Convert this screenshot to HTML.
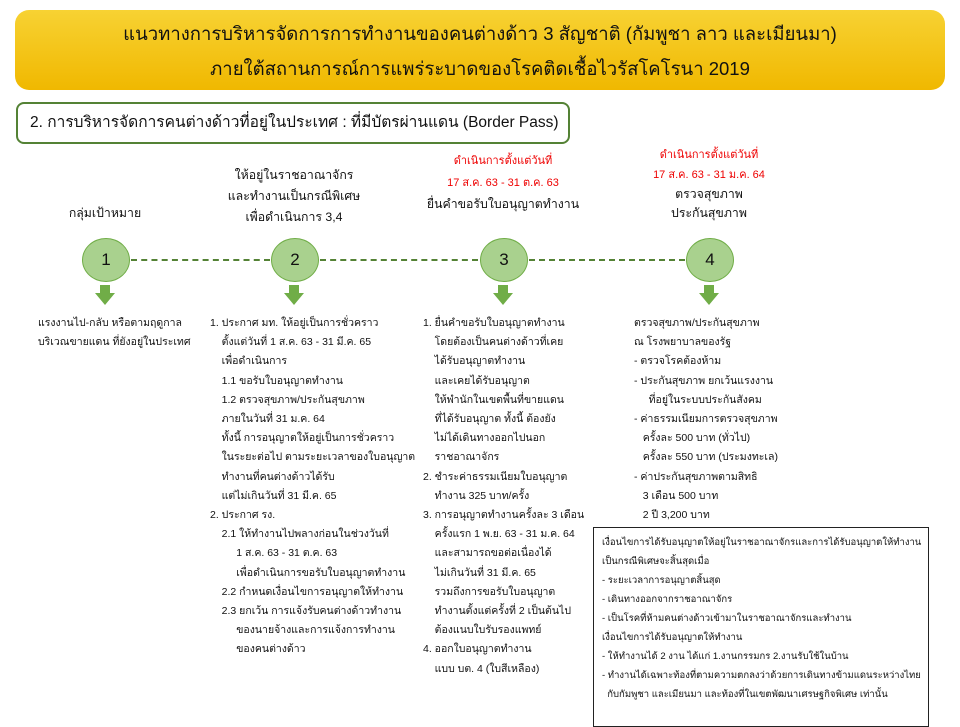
<!DOCTYPE html>
<html><head><meta charset="utf-8"><style>
body{margin:0;width:960px;height:720px;background:#fff;position:relative;overflow:hidden;font-family:"Liberation Sans","Noto Sans CJK SC",sans-serif;color:#111}
.hdr{position:absolute;left:15px;top:10px;width:930px;height:80px;border-radius:14px;background:linear-gradient(#f7d233,#f0b800);text-align:center;font-size:18.5px;line-height:35px;padding-top:6px;box-sizing:border-box;white-space:nowrap}
.sub{position:absolute;left:16px;top:102px;width:554px;height:42px;border:2px solid #548235;border-radius:8px;box-sizing:border-box;font-size:15.5px;line-height:38px;padding-left:12px;white-space:nowrap}
.c{position:absolute;width:48px;height:44px;border-radius:50%;background:#a9d18e;border:1px solid #70ad47;box-sizing:border-box;text-align:center;line-height:42px;font-size:17px}
.ln{position:absolute;top:259px;border-top:2px dashed #548235}
.t{position:absolute;font-size:10.5px;line-height:19.2px;white-space:nowrap}
.lab{position:absolute;text-align:center;font-size:12.3px;line-height:21px;white-space:nowrap}
.r{color:#e00;font-size:11px}
.box{position:absolute;left:593px;top:527px;width:336px;height:200px;border:1px solid #222;box-sizing:border-box;padding:5px 0 0 8px;font-size:9.5px;line-height:19px;white-space:nowrap}
</style></head><body>
<div class="hdr">แนวทางการบริหารจัดการการทำงานของคนต่างด้าว 3 สัญชาติ (กัมพูชา ลาว และเมียนมา)<br>ภายใต้สถานการณ์การแพร่ระบาดของโรคติดเชื้อไวรัสโคโรนา 2019</div>
<div class="sub">2. การบริหารจัดการคนต่างด้าวที่อยู่ในประเทศ : ที่มีบัตรผ่านแดน (Border Pass)</div>

<div class="lab" style="left:45px;width:120px;top:203px">กลุ่มเป้าหมาย</div>
<div class="lab" style="left:214px;width:160px;top:165px">ให้อยู่ในราชอาณาจักร<br>และทำงานเป็นกรณีพิเศษ<br>เพื่อดำเนินการ 3,4</div>
<div class="lab" style="left:413px;width:180px;top:150px"><span class="r">ดำเนินการตั้งแต่วันที่</span><br><span class="r">17 ส.ค. 63 - 31 ต.ค. 63</span><br>ยื่นคำขอรับใบอนุญาตทำงาน</div>
<div class="lab" style="left:619px;width:180px;top:145px;line-height:19px"><span class="r">ดำเนินการตั้งแต่วันที่</span><br><span class="r">17 ส.ค. 63 - 31 ม.ค. 64</span><br>ตรวจสุขภาพ<br>ประกันสุขภาพ</div>

<div class="ln" style="left:131px;width:139px"></div>
<div class="ln" style="left:320px;width:158px"></div>
<div class="ln" style="left:529px;width:156px"></div>
<div class="c" style="left:82px;top:238px">1</div>
<div class="c" style="left:271px;top:238px">2</div>
<div class="c" style="left:480px;top:238px">3</div>
<div class="c" style="left:686px;top:238px">4</div>
<svg style="position:absolute;left:0;top:0" width="960" height="320">
<g fill="#70ad47"><path d="M100 285h10v8h5l-10 12l-10-12h5z"/><path d="M289 285h10v8h5l-10 12l-10-12h5z"/><path d="M498 285h10v8h5l-10 12l-10-12h5z"/><path d="M704 285h10v8h5l-10 12l-10-12h5z"/></g></svg>

<div class="t" style="left:38px;top:314px">แรงงานไป-กลับ หรือตามฤดูกาล<br>บริเวณขายแดน ที่ยังอยู่ในประเทศ</div>
<div class="t" style="left:210px;top:314px">1. ประกาศ มท. ให้อยู่เป็นการชั่วคราว<br>&nbsp;&nbsp;&nbsp;&nbsp;ตั้งแต่วันที่ 1 ส.ค. 63 - 31 มี.ค. 65<br>&nbsp;&nbsp;&nbsp;&nbsp;เพื่อดำเนินการ<br>&nbsp;&nbsp;&nbsp;&nbsp;1.1 ขอรับใบอนุญาตทำงาน<br>&nbsp;&nbsp;&nbsp;&nbsp;1.2 ตรวจสุขภาพ/ประกันสุขภาพ<br>&nbsp;&nbsp;&nbsp;&nbsp;ภายในวันที่ 31 ม.ค. 64<br>&nbsp;&nbsp;&nbsp;&nbsp;ทั้งนี้ การอนุญาตให้อยู่เป็นการชั่วคราว<br>&nbsp;&nbsp;&nbsp;&nbsp;ในระยะต่อไป ตามระยะเวลาของใบอนุญาต<br>&nbsp;&nbsp;&nbsp;&nbsp;ทำงานที่คนต่างด้าวได้รับ<br>&nbsp;&nbsp;&nbsp;&nbsp;แต่ไม่เกินวันที่ 31 มี.ค. 65<br>2. ประกาศ รง.<br>&nbsp;&nbsp;&nbsp;&nbsp;2.1 ให้ทำงานไปพลางก่อนในช่วงวันที่<br>&nbsp;&nbsp;&nbsp;&nbsp;&nbsp;&nbsp;&nbsp;&nbsp;&nbsp;1 ส.ค. 63 - 31 ต.ค. 63<br>&nbsp;&nbsp;&nbsp;&nbsp;&nbsp;&nbsp;&nbsp;&nbsp;&nbsp;เพื่อดำเนินการขอรับใบอนุญาตทำงาน<br>&nbsp;&nbsp;&nbsp;&nbsp;2.2 กำหนดเงื่อนไขการอนุญาตให้ทำงาน<br>&nbsp;&nbsp;&nbsp;&nbsp;2.3 ยกเว้น การแจ้งรับคนต่างด้าวทำงาน<br>&nbsp;&nbsp;&nbsp;&nbsp;&nbsp;&nbsp;&nbsp;&nbsp;&nbsp;ของนายจ้างและการแจ้งการทำงาน<br>&nbsp;&nbsp;&nbsp;&nbsp;&nbsp;&nbsp;&nbsp;&nbsp;&nbsp;ของคนต่างด้าว</div>
<div class="t" style="left:423px;top:314px">1. ยื่นคำขอรับใบอนุญาตทำงาน<br>&nbsp;&nbsp;&nbsp;&nbsp;โดยต้องเป็นคนต่างด้าวที่เคย<br>&nbsp;&nbsp;&nbsp;&nbsp;ได้รับอนุญาตทำงาน<br>&nbsp;&nbsp;&nbsp;&nbsp;และเคยได้รับอนุญาต<br>&nbsp;&nbsp;&nbsp;&nbsp;ให้พำนักในเขตพื้นที่ขายแดน<br>&nbsp;&nbsp;&nbsp;&nbsp;ที่ได้รับอนุญาต ทั้งนี้ ต้องยัง<br>&nbsp;&nbsp;&nbsp;&nbsp;ไม่ได้เดินทางออกไปนอก<br>&nbsp;&nbsp;&nbsp;&nbsp;ราชอาณาจักร<br>2. ชำระค่าธรรมเนียมใบอนุญาต<br>&nbsp;&nbsp;&nbsp;&nbsp;ทำงาน 325 บาท/ครั้ง<br>3. การอนุญาตทำงานครั้งละ 3 เดือน<br>&nbsp;&nbsp;&nbsp;&nbsp;ครั้งแรก 1 พ.ย. 63 - 31 ม.ค. 64<br>&nbsp;&nbsp;&nbsp;&nbsp;และสามารถขอต่อเนื่องได้<br>&nbsp;&nbsp;&nbsp;&nbsp;ไม่เกินวันที่ 31 มี.ค. 65<br>&nbsp;&nbsp;&nbsp;&nbsp;รวมถึงการขอรับใบอนุญาต<br>&nbsp;&nbsp;&nbsp;&nbsp;ทำงานตั้งแต่ครั้งที่ 2 เป็นต้นไป<br>&nbsp;&nbsp;&nbsp;&nbsp;ต้องแนบใบรับรองแพทย์<br>4. ออกใบอนุญาตทำงาน<br>&nbsp;&nbsp;&nbsp;&nbsp;แบบ บต. 4 (ใบสีเหลือง)</div>
<div class="t" style="left:634px;top:314px">ตรวจสุขภาพ/ประกันสุขภาพ<br>ณ โรงพยาบาลของรัฐ<br>- ตรวจโรคต้องห้าม<br>- ประกันสุขภาพ ยกเว้นแรงงาน<br>&nbsp;&nbsp;&nbsp;&nbsp;&nbsp;ที่อยู่ในระบบประกันสังคม<br>- ค่าธรรมเนียมการตรวจสุขภาพ<br>&nbsp;&nbsp;&nbsp;ครั้งละ 500 บาท (ทั่วไป)<br>&nbsp;&nbsp;&nbsp;ครั้งละ 550 บาท (ประมงทะเล)<br>- ค่าประกันสุขภาพตามสิทธิ<br>&nbsp;&nbsp;&nbsp;3 เดือน 500 บาท<br>&nbsp;&nbsp;&nbsp;2 ปี 3,200 บาท</div>
<div class="box">เงื่อนไขการได้รับอนุญาตให้อยู่ในราชอาณาจักรและการได้รับอนุญาตให้ทำงาน<br>เป็นกรณีพิเศษจะสิ้นสุดเมื่อ<br>- ระยะเวลาการอนุญาตสิ้นสุด<br>- เดินทางออกจากราชอาณาจักร<br>- เป็นโรคที่ห้ามคนต่างด้าวเข้ามาในราชอาณาจักรและทำงาน<br>เงื่อนไขการได้รับอนุญาตให้ทำงาน<br>- ให้ทำงานได้ 2 งาน ได้แก่ 1.งานกรรมกร 2.งานรับใช้ในบ้าน<br>- ทำงานได้เฉพาะท้องที่ตามความตกลงว่าด้วยการเดินทางข้ามแดนระหว่างไทย<br>&nbsp;&nbsp;กับกัมพูชา และเมียนมา และท้องที่ในเขตพัฒนาเศรษฐกิจพิเศษ เท่านั้น</div>
</body></html>
